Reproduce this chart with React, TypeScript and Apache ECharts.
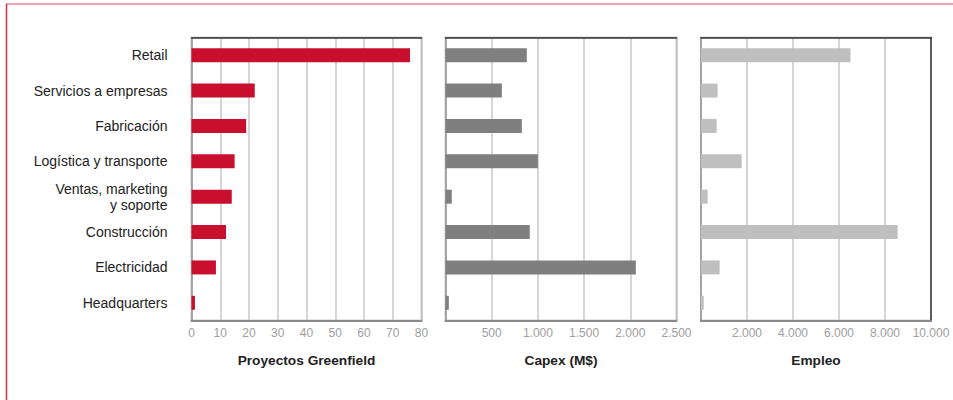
import React, { useEffect, useRef } from "react";
import * as echarts from "echarts";

const categories = [
  "Retail",
  "Servicios a empresas",
  "Fabricación",
  "Logística y transporte",
  "Ventas, marketing\ny soporte",
  "Construcción",
  "Electricidad",
  "Headquarters",
];
const proyectos = [76, 22, 19, 15, 14, 12, 8.5, 1.2];
const capex = [880, 610, 826, 1000, 68, 912, 2060, 36];
const empleo = [6500, 720, 680, 1770, 290, 8550, 810, 120];

const titles = ["Proyectos Greenfield", "Capex (M$)", "Empleo"];
const colors = ["#c8102e", "#7f7f7f", "#bfbfbf"];
const maxes = [80, 2500, 10000];
const intervals = [10, 500, 2000];

const FONT = '"Liberation Sans Narrow", "Arial Narrow", "Liberation Sans", Arial, sans-serif';

const fmt = (v: number) => String(v).replace(/\B(?=(\d{3})+(?!\d))/g, ".");

export default function App() {
  const ref = useRef<HTMLDivElement>(null);
  useEffect(() => {
    if (!ref.current) return;
    const chart = echarts.init(ref.current, undefined, { renderer: "svg" });
    const grids = [
      { left: 191.5, width: 230 },
      { left: 445.5, width: 231 },
      { left: 701, width: 230 },
    ].map((g) => ({
      ...g,
      top: 37.5,
      height: 283,
      show: true,
      borderColor: "#9a9a9a",
      borderWidth: 1.5,
      backgroundColor: "transparent",
    }));
    const seriesData = [proyectos, capex, empleo];
    const xAxes: any[] = [];
    const yAxes: any[] = [];
    for (let i = 0; i < 3; i++) {
      xAxes.push({
        type: "value",
        gridIndex: i,
        min: 0,
        max: maxes[i],
        interval: intervals[i],
        position: "bottom",
        name: titles[i],
        nameLocation: "middle",
        nameGap: 33,
        nameTextStyle: { fontFamily: FONT, fontSize: 13.7, fontWeight: "bold", color: "#222" },
        axisLine: { show: true, lineStyle: { color: "#8a8a8a", width: 2 } },
        axisTick: { show: false },
        axisLabel: {
          fontFamily: FONT,
          fontSize: 12,
          color: "#9e9e9e",
          margin: 6.5,
          formatter: (v: number) => (i > 0 && v === 0 ? "" : fmt(v)),
        },
        splitLine: { show: true, lineStyle: { color: "#c8c8c8", width: 1.5 } },
      });
      xAxes.push({
        type: "value",
        gridIndex: i,
        min: 0,
        max: maxes[i],
        position: "top",
        axisLine: { show: true, onZero: false, lineStyle: { color: "#3a3a3a", width: 1.5 } },
        axisTick: { show: false },
        axisLabel: { show: false },
        splitLine: { show: false },
      });
      yAxes.push({
        type: "category",
        gridIndex: i,
        data: categories,
        inverse: true,
        axisLine: { show: true, lineStyle: { color: "#9a9a9a", width: 1.5 } },
        axisTick: { show: false },
        axisLabel: {
          show: i === 0,
          fontFamily: FONT,
          fontSize: 14,
          color: "#222",
          margin: 24,
          lineHeight: 16,
          align: "right",
        },
        splitLine: { show: false },
      });
    }
    yAxes.push({
      type: "category",
      gridIndex: 2,
      data: categories,
      inverse: true,
      position: "right",
      axisLine: { show: true, onZero: false, lineStyle: { color: "#3a3a3a", width: 1.5 } },
      axisTick: { show: false },
      axisLabel: { show: false },
      splitLine: { show: false },
    });
    const series = seriesData.map((d, i) => ({
      type: "bar",
      xAxisIndex: i * 2,
      yAxisIndex: i,
      data: d,
      barWidth: 14,
      itemStyle: { color: colors[i] },
      silent: true,
    }));
    chart.setOption({
      animation: false,
      backgroundColor: "#ffffff",
      grid: grids,
      xAxis: xAxes,
      yAxis: yAxes,
      series,
      graphic: [
        {
          type: "line",
          shape: { x1: 6, y1: 4, x2: 953, y2: 4 },
          style: { stroke: "#e8899a", lineWidth: 1.5 },
        },
        {
          type: "line",
          shape: { x1: 6.5, y1: 4, x2: 6.5, y2: 400 },
          style: { stroke: "#d9304a", lineWidth: 1.5 },
        },
      ],
    });
    return () => chart.dispose();
  }, []);
  return (
    <div
      ref={ref}
      style={{ position: "absolute", left: 0, top: 0, width: 953, height: 400 }}
    />
  );
}
